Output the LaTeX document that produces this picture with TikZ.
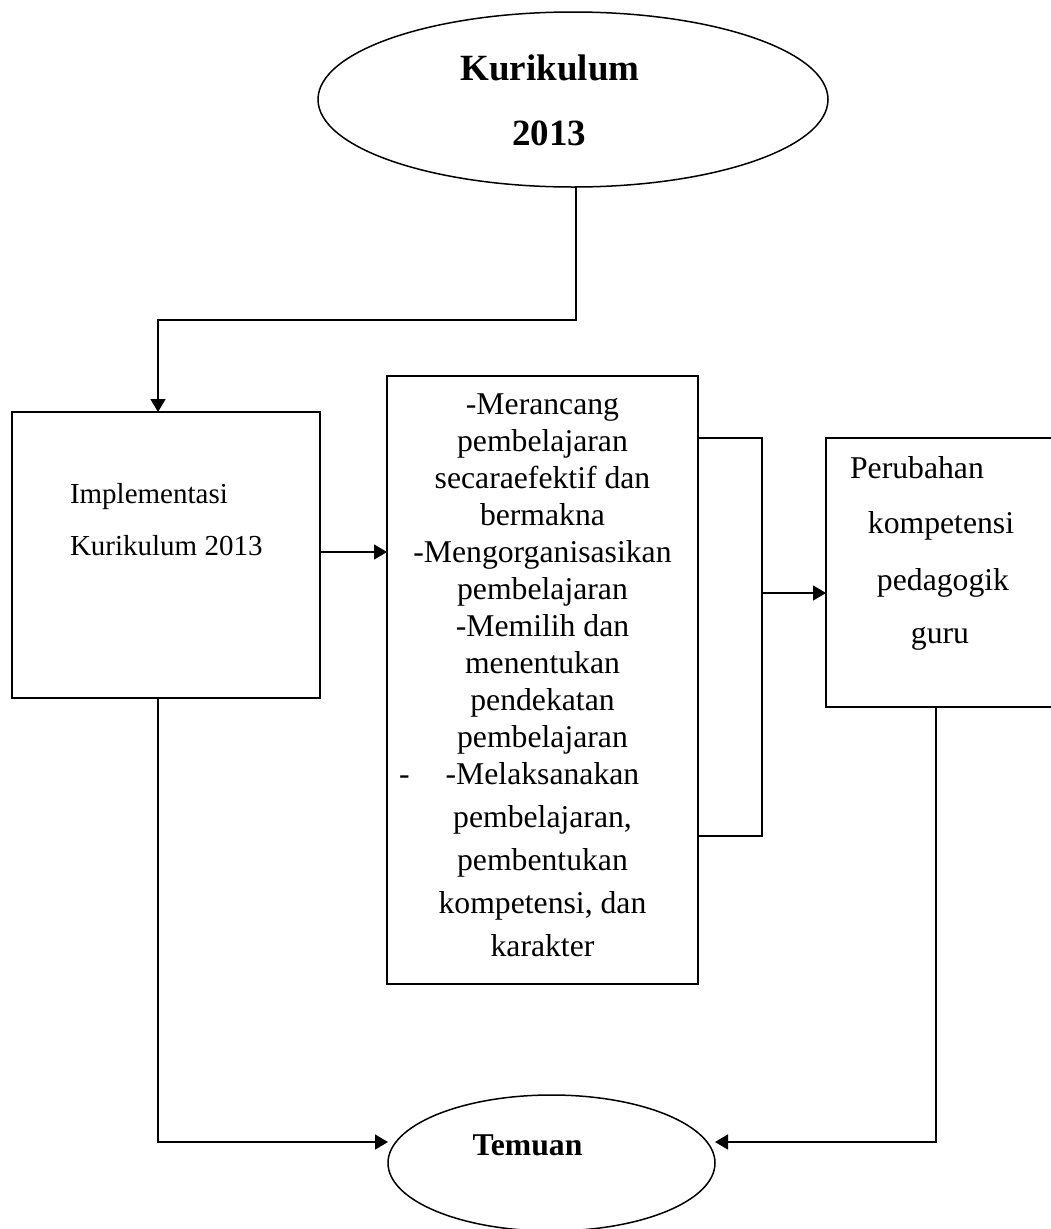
\documentclass[tikz,border=0pt]{standalone}
\usepackage{fontspec}
\setmainfont{Liberation Serif}
\usetikzlibrary{arrows.meta,shapes.geometric}
\begin{document}
\begin{tikzpicture}[x=1pt,y=-1pt,
  boxshape/.style={draw,line width=1.7pt,inner sep=0pt,outer sep=0pt},
  ovalshape/.style={draw,ellipse,line width=1.5pt,inner sep=0pt,outer sep=0pt},
  conn/.style={line width=1.4pt},
  arr/.style={conn,-{Triangle[length=13pt,width=15pt]}},
  txt/.style={inner sep=0pt,outer sep=0pt},
  smallfont/.style={font=\fontsize{29}{34}\selectfont},
  midfont/.style={font=\fontsize{31.7}{37}\selectfont},
  bigbold/.style={font=\fontsize{37}{42}\selectfont\bfseries},
  midbold/.style={font=\fontsize{31.7}{37}\selectfont\bfseries}]
\clip (0,0) rectangle (1051,1229);
\fill[white] (0,0) rectangle (1051,1229);

% shapes
\node[ovalshape,minimum width=510pt,minimum height=175pt] (K) at (573,99.5) {};
\node[boxshape,minimum width=308pt,minimum height=286pt] (impl) at (166,555) {};
\node[boxshape,minimum width=311pt,minimum height=608pt] (mid) at (542.5,680) {};
\node[boxshape,minimum width=244pt,minimum height=269pt] (R) at (948,572.5) {};
\node[ovalshape,minimum width=327pt,minimum height=136pt] (T) at (551.5,1163) {};

% texts
\node[txt,bigbold,anchor=base] (kt1) at (550,80) {Kurikulum};
\node[txt,bigbold,anchor=base] (kt2) at (549,145) {2013};
\node[txt,midbold,anchor=base] (tt) at (527.5,1155) {Temuan};

\node[txt,smallfont,anchor=base west] (it1) at (70,503) {Implementasi};
\node[txt,smallfont,anchor=base west] (it2) at (70,555) {Kurikulum 2013};

\node[txt,midfont,align=center,anchor=north] (mt) at (542.5,394) {%
-Merancang\\
pembelajaran\\
secaraefektif dan\\
bermakna\\
-Mengorganisasikan\\
pembelajaran\\
-Memilih dan\\
menentukan\\
pendekatan\\
pembelajaran\\
\llap{-\hspace{36pt}}-Melaksanakan\\[6pt]
pembelajaran,\\[6pt]
pembentukan\\[6pt]
kompetensi, dan\\[6pt]
karakter};

\node[txt,midfont,anchor=base] (rt1) at (917,478) {Perubahan};
\node[txt,midfont,anchor=base] (rt2) at (941,533) {kompetensi};
\node[txt,midfont,anchor=base] (rt3) at (943,590) {pedagogik};
\node[txt,midfont,anchor=base] (rt4) at (940,643) {guru};

% connectors
\coordinate (k1) at (576,320);
\coordinate (k2) at (158,320);
\draw[arr] (K.south -| k1) -- (k1) -- (k2) -- (k2 |- impl.north);

\coordinate (a1) at ([yshift=3pt]impl.east);
\draw[arr] (a1) -- (mid.west |- a1);

\coordinate (b1) at (762,438);
\coordinate (b2) at (762,836);
\draw[conn] (mid.east |- b1) -- (b1) -- (b2) -- (mid.east |- b2);
\coordinate (b3) at (762,593);
\draw[arr] (b3) -- (R.west |- b3);

\coordinate (r1) at (936,1142);
\draw[arr] (R.south -| r1) -- (r1) -- (r1 -| T.east);

\coordinate (l1) at (158,1142);
\draw[arr] (impl.south -| l1) -- (l1) -- (l1 -| T.west);
\end{tikzpicture}
\end{document}
